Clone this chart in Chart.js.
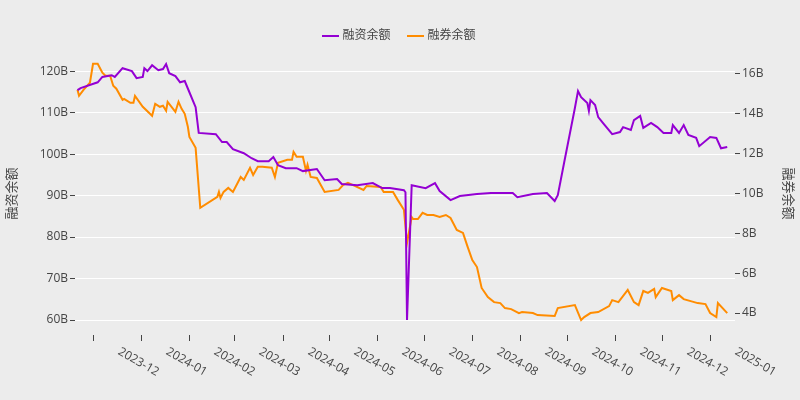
<!DOCTYPE html>
<html>
<head>
<meta charset="utf-8">
<script src="https://cdn.jsdelivr.net/npm/chart.js@4.4.1/dist/chart.umd.min.js"></script>
<style>
  html, body { margin: 0; padding: 0; background: #ececec; }
  #wrap { width: 800px; height: 400px; }
</style>
</head>
<body>
<div id="wrap"><canvas id="c"></canvas></div>
<script>
// days counted from 2023-12-01
const monthDays = [0, 31, 62, 91, 122, 152, 183, 213, 244, 275, 305, 336, 366, 397];
const monthLabels = ["2023-12", "2024-01", "2024-02", "2024-03", "2024-04", "2024-05", "2024-06",
    "2024-07", "2024-08", "2024-09", "2024-10", "2024-11", "2024-12", "2025-01"];
const leftTicks = [60, 70, 80, 90, 100, 110, 120];
const rightTicks = [4, 6, 8, 10, 12, 14, 16];

// 融资余额 (B)
const marginDays = [-10, -8, 3, 6, 12, 14, 19, 25, 28, 32, 33, 35, 38, 42, 45, 47, 49, 53, 56, 59, 62, 66, 68,
    79, 83, 86, 90, 97, 102, 106, 113, 116, 119, 124, 131, 135, 144, 149, 157, 160, 170, 180, 186, 191, 200, 201,
    202, 205, 214, 220, 223, 230, 236, 247, 256, 262, 270, 273, 283, 292, 297, 299, 303, 310, 312, 314, 318, 319,
    320, 323, 325, 328, 334, 339, 341, 346, 348, 352, 354, 359, 363, 367, 372, 373, 377, 380, 383, 388, 390, 397,
    401, 404, 408];
const marginVals = [115.4, 115.9, 117.3, 118.6, 119.0, 118.6, 120.7, 120.0, 118.3, 118.6, 120.7, 120.0, 121.4,
    120.2, 120.5, 121.7, 119.5, 118.8, 117.3, 117.6, 114.9, 111.3, 105.1, 104.8, 102.9, 102.9, 101.2, 100.2, 99.0,
    98.3, 98.3, 99.3, 97.3, 96.6, 96.6, 95.9, 96.4, 93.7, 94.0, 92.8, 92.5, 93.0, 91.8, 91.8, 91.3, 90.8, 60.0,
    92.5, 91.8, 93.0, 91.1, 88.9, 89.9, 90.4, 90.6, 90.6, 90.6, 89.6, 90.4, 90.6, 88.7, 90.1, 97.8, 111.1, 115.2,
    113.7, 112.3, 110.4, 113.0, 111.8, 108.9, 107.5, 104.8, 105.3, 106.5, 105.8, 108.2, 109.2, 106.3, 107.5, 106.5,
    105.1, 105.1, 107.0, 105.1, 107.0, 104.6, 103.9, 101.9, 104.1, 103.9, 101.4, 101.7];

// 融券余额 (B)
const shortDays = [-10, -9, -6, -2, 0, 3, 6, 8, 11, 13, 15, 19, 20, 24, 26, 27, 32, 38, 40, 43, 45, 47, 48, 53,
    55, 57, 59, 61, 62, 66, 69, 80, 81, 82, 84, 87, 90, 93, 95, 97, 101, 103, 106, 109, 115, 117, 119, 125, 128,
    129, 131, 135, 137, 138, 140, 144, 149, 158, 161, 164, 167, 174, 176, 185, 187, 193, 196, 200, 202, 205, 206,
    209, 212, 215, 219, 223, 227, 230, 234, 238, 241, 244, 247, 250, 254, 258, 262, 265, 269, 274, 276, 283, 286,
    297, 299, 310, 314, 316, 320, 325, 332, 334, 338, 344, 348, 351, 354, 357, 361, 362, 366, 372, 373, 377, 380,
    389, 394, 397, 401, 402, 408];
const shortVals = [15.21, 14.90, 15.21, 15.56, 16.51, 16.51, 16.06, 15.91, 15.91, 15.41, 15.26, 14.70, 14.75,
    14.55, 14.55, 14.90, 14.35, 13.90, 14.50, 14.35, 14.40, 14.15, 14.60, 14.10, 14.60, 14.25, 14.00, 13.35, 12.84,
    12.29, 9.28, 9.83, 10.08, 9.78, 10.08, 10.28, 10.08, 10.53, 10.83, 10.68, 11.29, 10.93, 11.34, 11.34, 11.29,
    10.83, 11.54, 11.69, 11.69, 12.09, 11.84, 11.84, 11.14, 11.44, 10.83, 10.78, 10.08, 10.18, 10.43, 10.53, 10.43,
    10.18, 10.38, 10.33, 10.08, 10.08, 9.68, 9.18, 7.52, 8.82, 8.72, 8.72, 9.03, 8.92, 8.92, 8.82, 8.92, 8.77, 8.17,
    8.02, 7.32, 6.66, 6.31, 5.26, 4.80, 4.55, 4.50, 4.25, 4.20, 4.00, 4.05, 4.00, 3.90, 3.85, 4.25, 4.40, 3.65,
    3.80, 4.00, 4.05, 4.35, 4.65, 4.55, 5.16, 4.55, 4.40, 5.11, 5.01, 5.21, 4.80, 5.26, 5.11, 4.65, 4.90, 4.70,
    4.50, 4.45, 4.00, 3.80, 4.50, 4.00];

const FONT = "'Open Sans', 'Noto Sans CJK SC', sans-serif";
const TEXT = "#444";

function pts(xs, ys) {
    return xs.map((x, i) => ({ x: x, y: ys[i] }));
}

// month ticks + rotated labels drawn below the plot
const monthAxis = {
    id: "monthAxis",
    afterDraw(chart) {
        const ctx = chart.ctx;
        const xs = chart.scales.x;
        const bottom = chart.chartArea.bottom;
        ctx.save();
        ctx.strokeStyle = TEXT;
        ctx.lineWidth = 1;
        ctx.fillStyle = TEXT;
        ctx.font = "12px " + FONT;
        ctx.textAlign = "center";
        ctx.textBaseline = "middle";
        monthDays.forEach((d, i) => {
            const px = Math.round(xs.getPixelForValue(d)) + 0.5;
            ctx.beginPath();
            ctx.moveTo(px, bottom);
            ctx.lineTo(px, bottom + 6);
            ctx.stroke();
            ctx.save();
            ctx.translate(px + 45, bottom + 27);
            ctx.rotate(Math.PI / 6);
            ctx.fillText(monthLabels[i], 0, 0);
            ctx.restore();
        });
        ctx.restore();
    }
};

new Chart(document.getElementById("c"), {
    type: "line",
    data: {
        datasets: [
            { label: "融资余额", data: pts(marginDays, marginVals), yAxisID: "y",
              borderColor: "#9400d3", backgroundColor: "#9400d3", borderWidth: 2 },
            { label: "融券余额", data: pts(shortDays, shortVals), yAxisID: "y1",
              borderColor: "#ff8c00", backgroundColor: "#ff8c00", borderWidth: 2 }
        ]
    },
    options: {
        responsive: true,
        maintainAspectRatio: false,
        animation: false,
        elements: { point: { radius: 0 }, line: { tension: 0 } },
        layout: { padding: { top: 11, bottom: 57 } },
        plugins: {
            tooltip: { enabled: false },
            legend: {
                position: "top",
                labels: { usePointStyle: true, pointStyle: "line", boxWidth: 30, color: TEXT,
                          font: { family: FONT, size: 12 }, padding: 19 }
            }
        },
        scales: {
            x: {
                type: "linear", min: -11.6, max: 413,
                grid: { display: false }, border: { display: false },
                ticks: { display: false }
            },
            y: {
                position: "left", min: 56.4, max: 124.6,
                afterBuildTicks: s => { s.ticks = leftTicks.map(v => ({ value: v })); },
                afterFit: s => { s.width = 75; },
                grid: { color: "#ffffff", lineWidth: 1, tickColor: TEXT, tickLength: 5 },
                border: { display: false },
                ticks: { color: TEXT, font: { family: FONT, size: 12 }, padding: 2, callback: v => v + "B" },
                title: { display: true, text: "融资余额", color: TEXT, font: { family: FONT, size: 13 } }
            },
            y1: {
                position: "right", min: 2.9, max: 17.1,
                afterBuildTicks: s => { s.ticks = rightTicks.map(v => ({ value: v })); },
                afterFit: s => { s.width = 65; },
                grid: { drawOnChartArea: false, tickColor: TEXT, tickLength: 5 },
                border: { display: false },
                ticks: { color: TEXT, font: { family: FONT, size: 12 }, padding: 2, callback: v => v + "B" },
                title: { display: true, text: "融券余额", color: TEXT, font: { family: FONT, size: 13 } }
            }
        }
    },
    plugins: [monthAxis]
});
</script>
</body>
</html>
